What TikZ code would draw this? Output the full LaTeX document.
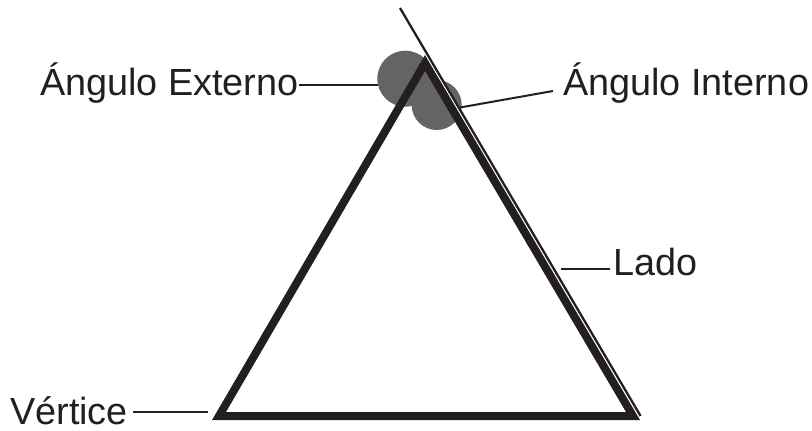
\documentclass[tikz,border=0pt]{standalone}
\usepackage{fontspec}
\setmainfont{Liberation Sans}
\usetikzlibrary{calc}
\definecolor{ink}{HTML}{231F20}
\definecolor{angfill}{RGB}{100,100,102}
\begin{document}
\begin{tikzpicture}[x=1pt,y=-1pt,
  lbl/.style={inner sep=0pt,anchor=base west,text=ink,font=\fontsize{37.8}{44}\selectfont},
  lead/.style={draw=ink,line width=2pt},
  tri/.style={draw=ink,line width=8pt,line join=miter},
  ray/.style={draw=ink,line width=2.3pt},
  angdisk/.style={fill=angfill}]
\useasboundingbox (0,0) rectangle (812,431);
% vertices
\coordinate (A) at (425,63);
\coordinate (B) at (219,416);
\coordinate (C) at (633,416);
% angle disks
\fill[angdisk] (405.3,78.7) circle[radius=28];
\fill[angdisk] (436.7,105) circle[radius=25];
% white gap and extended side
\draw[white,line width=1.6pt] ($(A)+(4.1,-2.4)$) -- ($(C)+(4.1,-2.4)$);
\coordinate (R1) at (400,8);
\coordinate (R2) at (640.6,416);
\draw[ray] (R1) -- (R2);
% triangle
\draw[tri] (A) -- (B) -- (C) -- cycle;
% labels
\node[lbl] (ext) at (40,95) {Ángulo Externo};
\node[lbl] (int) at (563,95) {Ángulo Interno};
\node[lbl] (lado) at (613,275) {Lado};
\node[lbl] (vert) at (10,424) {Vértice};
% leaders
\coordinate (extE) at (378,85);
\coordinate (intE) at (460,107.5);
\coordinate (ladoE) at (561,269);
\coordinate (vertE) at (208,412);
\draw[lead] (ext.east |- extE) -- (extE);
\draw[lead] ([xshift=-10pt]int.west |- 0,91) -- (intE);
\draw[lead] ([xshift=-3pt]lado.west |- ladoE) -- (ladoE);
\draw[lead] ([xshift=5pt]vert.east |- vertE) -- (vertE);
\end{tikzpicture}
\end{document}
